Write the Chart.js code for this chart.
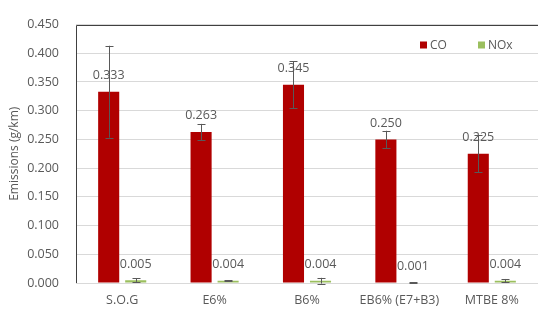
<!DOCTYPE html>
<html>
<head>
<meta charset="utf-8">
<script src="https://cdn.jsdelivr.net/npm/chart.js@4/dist/chart.umd.min.js"></script>
<style>
  html, body { margin: 0; padding: 0; background: #fff; }
  #wrap { width: 538px; height: 312px; }
</style>
</head>
<body>
<div id="wrap"><canvas id="chart"></canvas></div>
<script>
// values
const categories = ['S.O.G', 'E6%', 'B6%', 'EB6% (E7+B3)', 'MTBE 8%'];
const coValues = [0.333, 0.263, 0.345, 0.250, 0.225];
const noxValues = [0.005, 0.004, 0.004, 0.001, 0.004];
const coErrors = [0.080, 0.014, 0.041, 0.015, 0.032];
const noxErrors = [0.003, 0.001, 0.005, 0.0005, 0.003];
const yMax = 0.45;
const yStep = 0.05;

const FONT = "'Open Sans', sans-serif";
const textColor = '#595959';

// value labels and error bars over each bar
const barExtras = {
    id: 'barExtras',
    afterDatasetsDraw(chart) {
        const c = chart.ctx;
        const yScale = chart.scales.y;
        c.save();
        c.font = '12.5px ' + FONT;
        c.fillStyle = textColor;
        c.textAlign = 'center';
        c.textBaseline = 'middle';
        chart.data.datasets.forEach((ds, i) => {
            chart.getDatasetMeta(i).data.forEach((bar, j) => {
                c.fillText(ds.data[j].toFixed(3), bar.x, bar.y - 16);
            });
        });
        c.strokeStyle = '#595959';
        c.lineWidth = 1;
        chart.data.datasets.forEach((ds, i) => {
            chart.getDatasetMeta(i).data.forEach((bar, j) => {
                const x = Math.round(bar.x) + 0.5;
                const top = yScale.getPixelForValue(ds.data[j] + ds.errors[j]);
                const bot = yScale.getPixelForValue(ds.data[j] - ds.errors[j]);
                c.beginPath();
                c.moveTo(x, top); c.lineTo(x, bot);
                c.moveTo(x - 4, Math.round(top) + 0.5); c.lineTo(x + 4, Math.round(top) + 0.5);
                c.moveTo(x - 4, Math.round(bot) + 0.5); c.lineTo(x + 4, Math.round(bot) + 0.5);
                c.stroke();
            });
        });
        // frame: left and top
        const a = chart.chartArea;
        c.strokeStyle = '#404040';
        c.beginPath();
        c.moveTo(Math.round(a.left) + 0.5, Math.round(a.bottom));
        c.lineTo(Math.round(a.left) + 0.5, Math.round(a.top) + 0.5);
        c.lineTo(a.right, Math.round(a.top) + 0.5);
        c.stroke();
        // legend in the upper right of the plot
        c.font = '12px ' + FONT;
        c.textAlign = 'left';
        const lx = [a.left + 344, a.left + 402];
        chart.data.datasets.forEach((ds, i) => {
            c.fillStyle = ds.backgroundColor;
            c.fillRect(lx[i], a.top + 17, 7, 7);
            c.fillStyle = textColor;
            c.fillText(ds.label, lx[i] + 10, a.top + 21);
        });
        c.restore();
    }
};

new Chart(document.getElementById('chart'), {
    type: 'bar',
    data: {
        labels: categories,
        datasets: [
            { label: 'CO', data: coValues, errors: coErrors, backgroundColor: '#b00000' },
            { label: 'NOx', data: noxValues, errors: noxErrors, backgroundColor: '#9bbf5e' }
        ]
    },
    options: {
        responsive: true,
        maintainAspectRatio: false,
        animation: false,
        categoryPercentage: 0.585,
        barPercentage: 0.78,
        layout: { padding: { top: 13, right: 0, left: 0, bottom: 0 } },
        plugins: { legend: { display: false }, tooltip: { enabled: false } },
        scales: {
            x: {
                grid: { display: false, drawTicks: false },
                border: { display: false },
                ticks: { color: textColor, font: { family: FONT, size: 12.5 }, padding: 10 },
                afterFit(s) { s.height = 29; }
            },
            y: {
                min: 0,
                max: yMax,
                grid: { color: '#d9d9d9', drawTicks: false },
                border: { display: false },
                ticks: {
                    stepSize: yStep,
                    color: textColor,
                    font: { family: FONT, size: 12.5 },
                    padding: 17,
                    callback: v => v.toFixed(3)
                },
                title: {
                    display: true,
                    text: 'Emissions (g/km)',
                    color: textColor,
                    font: { family: FONT, size: 12 },
                    padding: { top: 7, bottom: 0 }
                },
                afterFit(s) { s.width = 76; }
            }
        }
    },
    plugins: [barExtras]
});
</script>
</body>
</html>
